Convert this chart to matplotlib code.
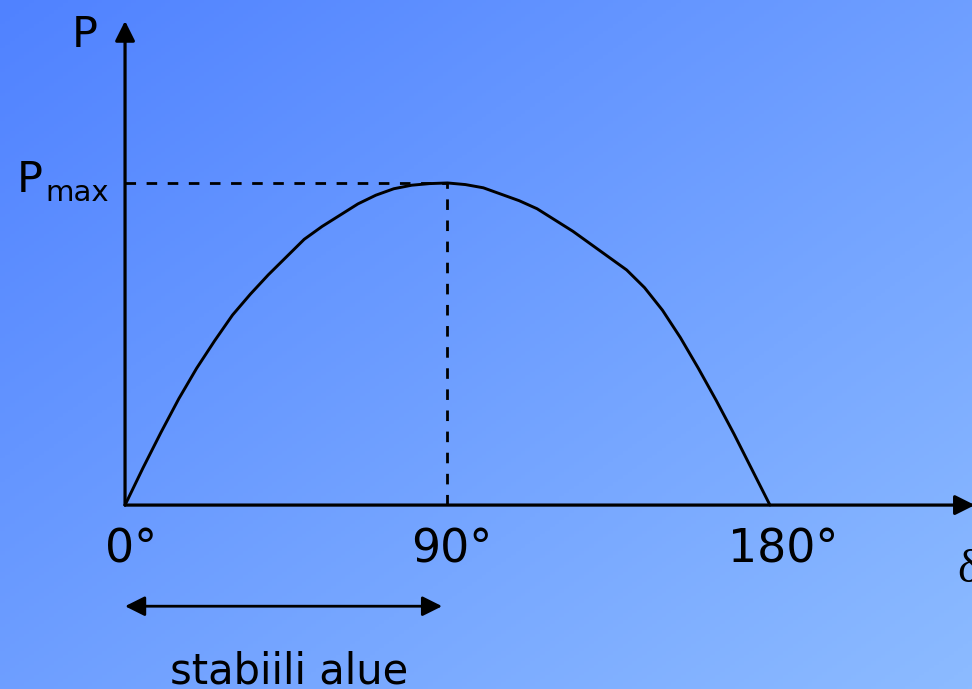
import matplotlib
matplotlib.use("Agg")
import matplotlib.pyplot as plt
import numpy as np

# power-angle curve (delta in degrees, P relative to Pmax)
delta_deg = [0, 5, 10, 15, 20, 25, 30, 35, 40, 45, 50, 55, 60, 65, 70, 75, 80, 85,
             90, 95, 100, 105, 110, 115, 120, 125, 130, 135, 140, 145, 150, 155,
             160, 165, 170, 175, 180]
power = [0, 0.115, 0.225, 0.33, 0.425, 0.51, 0.59, 0.655, 0.715, 0.77, 0.825,
         0.865, 0.90, 0.935, 0.962, 0.982, 0.993, 0.998,
         1.0, 0.995, 0.985, 0.965, 0.945, 0.92, 0.885, 0.85, 0.81, 0.77, 0.73,
         0.675, 0.605, 0.52, 0.425, 0.325, 0.22, 0.11, 0]
p_max = 1.0
delta_pmax = 90
tick_labels = ["0°", "90°", "180°"]
stable_end = 88.5

xlim = (-34.9, 236.4)
ylim = (-0.571, 1.568)

fig = plt.figure(figsize=(9.72, 6.89), dpi=100)
ax = fig.add_axes([0, 0, 1, 1])
ax.set_xlim(*xlim)
ax.set_ylim(*ylim)
ax.axis("off")

# diagonal blue gradient background
tl = np.array([80, 130, 255]) / 255
br = np.array([140, 187, 255]) / 255
u, v = np.meshgrid(np.linspace(0, 1, 200), np.linspace(0, 1, 200))
t = ((u + v) / 2)[..., None]
bg = tl + t * (br - tl)
ax.imshow(bg, extent=(xlim[0], xlim[1], ylim[0], ylim[1]), aspect="auto",
          origin="upper", zorder=0)

arrow_kw = dict(arrowstyle="-|>,head_length=0.6,head_width=0.3", color="black",
                lw=2.3, mutation_scale=20, shrinkA=0, shrinkB=0)
# axes with arrows
ax.annotate("", xy=(0, 1.503), xytext=(0, 0), arrowprops=arrow_kw,
            annotation_clip=False)
ax.annotate("", xy=(237.2, 0), xytext=(0, 0), arrowprops=arrow_kw,
            annotation_clip=False)

# dashed guides to the maximum
ax.plot([0, delta_pmax], [p_max, p_max], color="black", lw=2.0,
        dashes=(3.8, 3.8), zorder=2)
ax.plot([delta_pmax, delta_pmax], [0, p_max], color="black", lw=2.0,
        dashes=(3.8, 3.8), zorder=2)

# curve
ax.plot(delta_deg, power, color="black", lw=2.1, zorder=3,
        solid_joinstyle="round", solid_capstyle="round")

# stable region arrow
ax.annotate("", xy=(0, -0.314), xytext=(stable_end, -0.314),
            arrowprops=dict(arrowstyle="<|-|>,head_length=0.6,head_width=0.3",
                            color="black", lw=2.0, mutation_scale=20,
                            shrinkA=0, shrinkB=0))

font = "DejaVu Sans"
tick_x = [1.7, 91.1, 183.8]
for x, lab in zip(tick_x, tick_labels):
    ax.text(x, -0.177, lab, ha="center", va="baseline", fontsize=33,
            family=font)

ax.text(-14.8, 1.422, "P", ha="left", va="baseline", fontsize=31, family=font)
ax.text(-30.1, 0.972, "P", ha="left", va="baseline", fontsize=31, family=font)
ax.text(-22.3, 0.944, "max", ha="left", va="baseline", fontsize=21, family=font)
ax.text(232.2, -0.239, "δ", ha="left", va="baseline", fontsize=33,
        family="Liberation Serif")
ax.text(45.9, -0.553, "stabiili alue", ha="center", va="baseline",
        fontsize=30, family=font)

fig.savefig("out.png", dpi=100)
